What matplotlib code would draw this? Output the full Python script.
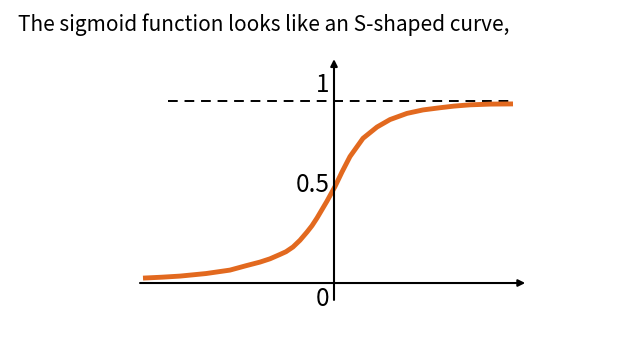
import matplotlib
matplotlib.use("Agg")
import numpy as np
from matplotlib import pyplot as plt

plt.rcParams['font.family'] = ['Noto Sans CJK KR', 'DejaVu Sans']

# points (x in arbitrary units, y in 0..1)
curve_x = [-4.775, -4.3, -3.85, -3.2, -2.6, -2.2, -1.85, -1.6, -1.35, -1.2,
           -1.025, -0.85, -0.675, -0.55, -0.425, -0.175, 0.025, 0.2, 0.4,
           0.725, 1.075, 1.4, 1.825, 2.225, 2.65, 3.0, 3.4, 3.9, 4.475]
curve_y = [0.027, 0.032, 0.038, 0.052, 0.071, 0.095, 0.115, 0.133, 0.157, 0.172,
           0.198, 0.235, 0.28, 0.315, 0.357, 0.45, 0.53, 0.61, 0.695,
           0.795, 0.857, 0.898, 0.932, 0.951, 0.963, 0.972, 0.979, 0.983, 0.984]

tick_labels = ['1', '0.5', '0']
tick_vals = [1.09, 0.54, -0.09]

title = 'The sigmoid function looks like an S-shaped curve,'
orange = '#E2691F'

fig = plt.figure(figsize=(6.4, 3.6), dpi=100)
ax = fig.add_axes([0, 0, 1, 1])
ax.set_xlim(-8.35, 7.65)
ax.set_ylim(-0.423, 1.555)
ax.axis('off')

# axes with arrows
ax.annotate('', xy=(4.78, 0), xytext=(-4.85, 0),
            arrowprops=dict(arrowstyle='-|>', color='black', lw=1.5,
                            mutation_scale=10, shrinkA=0, shrinkB=0))
ax.annotate('', xy=(0, 1.23), xytext=(0, -0.093),
            arrowprops=dict(arrowstyle='-|>', color='black', lw=1.5,
                            mutation_scale=10, shrinkA=0, shrinkB=0))

# asymptote
ax.plot([-4.15, 4.45], [1, 1], color='black', lw=1.4, ls=(0, (5, 3.5)))

# the curve
ax.plot(curve_x, curve_y, color=orange, lw=3.5, solid_capstyle='butt',
        solid_joinstyle='round')

for lab, v in zip(tick_labels, tick_vals):
    ax.text(-0.12, v, lab, ha='right', va='center', fontsize=17.5)

fig.text(18 / 640, 1 - 25 / 360, title, ha='left', va='center', fontsize=15)

fig.savefig('out.png', dpi=100)
